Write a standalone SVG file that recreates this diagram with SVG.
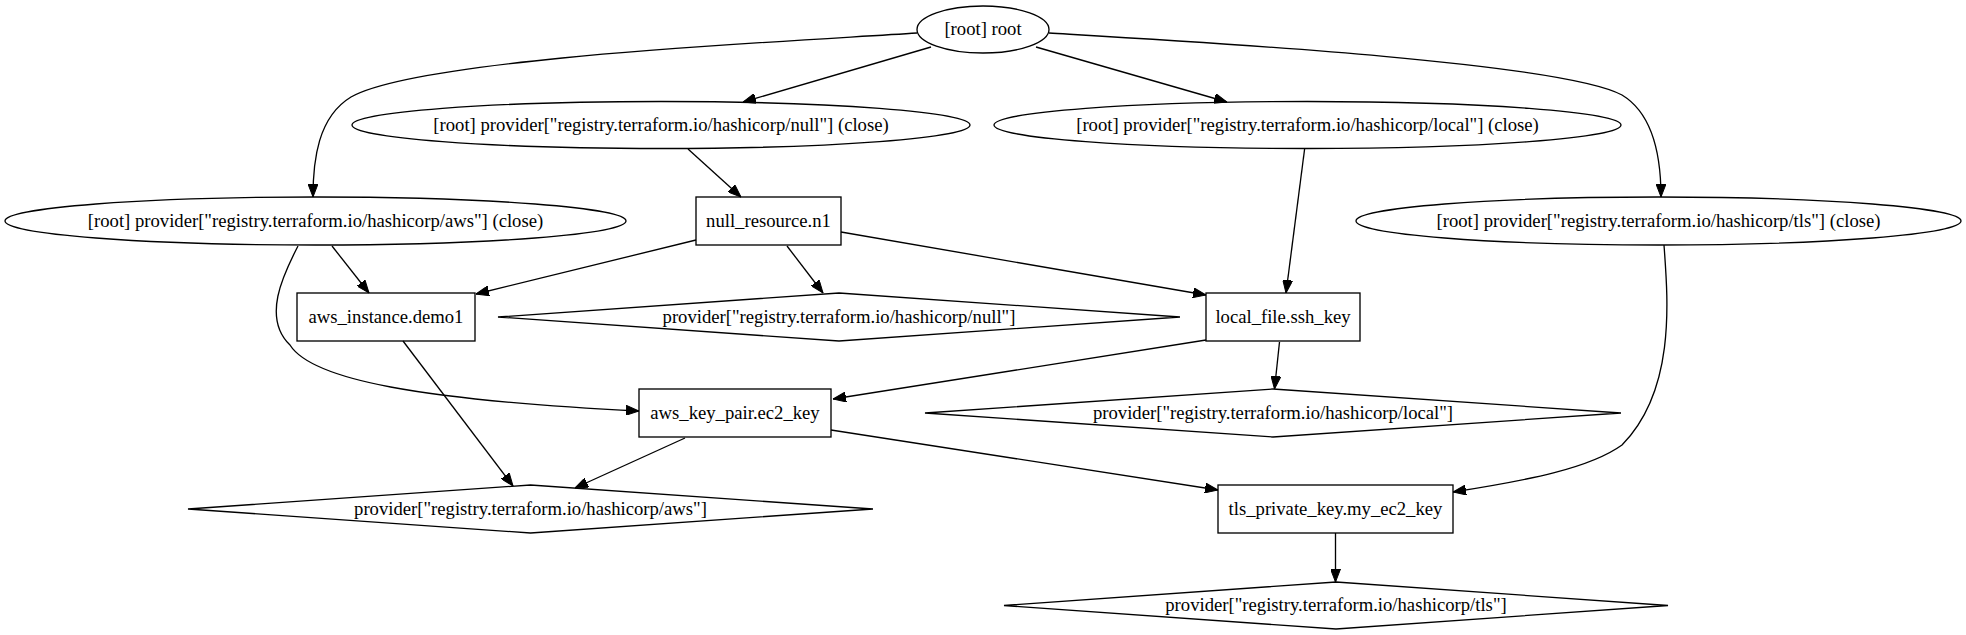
<svg xmlns="http://www.w3.org/2000/svg" width="1966" height="635" viewBox="0 0 1966 635">
<style>
.n ellipse,.n rect,.n polygon{fill:none;stroke:#000;stroke-width:1.33}
.n text{font-family:"Liberation Serif","Times New Roman",serif;font-size:18.67px;text-anchor:middle;fill:#000}
#edges path{fill:none;stroke:#000;stroke-width:1.33;marker-end:url(#ah)}
</style>
<defs>
<marker id="ah" viewBox="0 0 13 10" refX="13" refY="5" markerWidth="13" markerHeight="10" markerUnits="userSpaceOnUse" orient="auto">
<path d="M0,0 L13,5 L0,10 z" fill="#000" stroke="#000" stroke-width="1"/>
</marker>
</defs>
<rect width="1966" height="635" fill="#fff"/>
<g id="edges">
<path d="M917,33 C780,42 420,58 351,97 C318,117 313,160 313,197"/>
<path d="M931,47 L743,102"/>
<path d="M1036,47 L1227,102"/>
<path d="M1049,33 C1200,42 1560,62 1622,95 C1655,115 1661,160 1661,197"/>
<path d="M688,149 L741,197"/>
<path d="M332,246 L369,293"/>
<path d="M298,246 C283,275 262,318 290,345 C312,380 420,400 639,411"/>
<path d="M696,240 L476,294"/>
<path d="M787,246 L823,293"/>
<path d="M841,232 L1206,295"/>
<path d="M1304.6,149 L1286,293"/>
<path d="M1664,245 C1668,300 1676,390 1622,445 C1590,468 1530,480 1453,492"/>
<path d="M403,341 L513,486"/>
<path d="M685,438 L575,488"/>
<path d="M1206,340 L833,399"/>
<path d="M1279.5,342 L1274.5,389"/>
<path d="M831,430 L1218,490"/>
<path d="M1335.5,533 L1335.5,582"/>
</g>
<g id="root" class="n"><ellipse cx="983" cy="29.5" rx="66" ry="23.5"/><text x="983" y="35">[root] root</text></g>
<g id="prov_null_close" class="n"><ellipse cx="661" cy="125" rx="309" ry="23.5"/><text x="661" y="130.5">[root] provider["registry.terraform.io/hashicorp/null"] (close)</text></g>
<g id="prov_local_close" class="n"><ellipse cx="1307.5" cy="125" rx="313.5" ry="23.5"/><text x="1307.5" y="130.5">[root] provider["registry.terraform.io/hashicorp/local"] (close)</text></g>
<g id="prov_aws_close" class="n"><ellipse cx="315.5" cy="221" rx="310.5" ry="24"/><text x="315.5" y="226.5">[root] provider["registry.terraform.io/hashicorp/aws"] (close)</text></g>
<g id="prov_tls_close" class="n"><ellipse cx="1658.5" cy="221" rx="302.5" ry="24"/><text x="1658.5" y="226.5">[root] provider["registry.terraform.io/hashicorp/tls"] (close)</text></g>
<g id="null_resource" class="n"><rect x="696" y="197" width="145" height="48"/><text x="768.5" y="226.5">null_resource.n1</text></g>
<g id="aws_instance" class="n"><rect x="297" y="293" width="178" height="48"/><text x="386" y="322.5">aws_instance.demo1</text></g>
<g id="local_file" class="n"><rect x="1206" y="293" width="154" height="48"/><text x="1283" y="322.5">local_file.ssh_key</text></g>
<g id="aws_key_pair" class="n"><rect x="639" y="389" width="192" height="48"/><text x="735" y="418.5">aws_key_pair.ec2_key</text></g>
<g id="tls_private_key" class="n"><rect x="1218" y="485" width="235" height="48"/><text x="1335.5" y="514.5">tls_private_key.my_ec2_key</text></g>
<g id="prov_null" class="n"><polygon points="839,293 1180,317 839,341 498,317"/><text x="839" y="322.5">provider["registry.terraform.io/hashicorp/null"]</text></g>
<g id="prov_local" class="n"><polygon points="1273,389 1621,413 1273,437 925,413"/><text x="1273" y="418.5">provider["registry.terraform.io/hashicorp/local"]</text></g>
<g id="prov_aws" class="n"><polygon points="530.5,485 873,509 530.5,533 188,509"/><text x="530.5" y="514.5">provider["registry.terraform.io/hashicorp/aws"]</text></g>
<g id="prov_tls" class="n"><polygon points="1336,582 1668,605.5 1336,629 1004,605.5"/><text x="1336" y="611">provider["registry.terraform.io/hashicorp/tls"]</text></g>
</svg>
